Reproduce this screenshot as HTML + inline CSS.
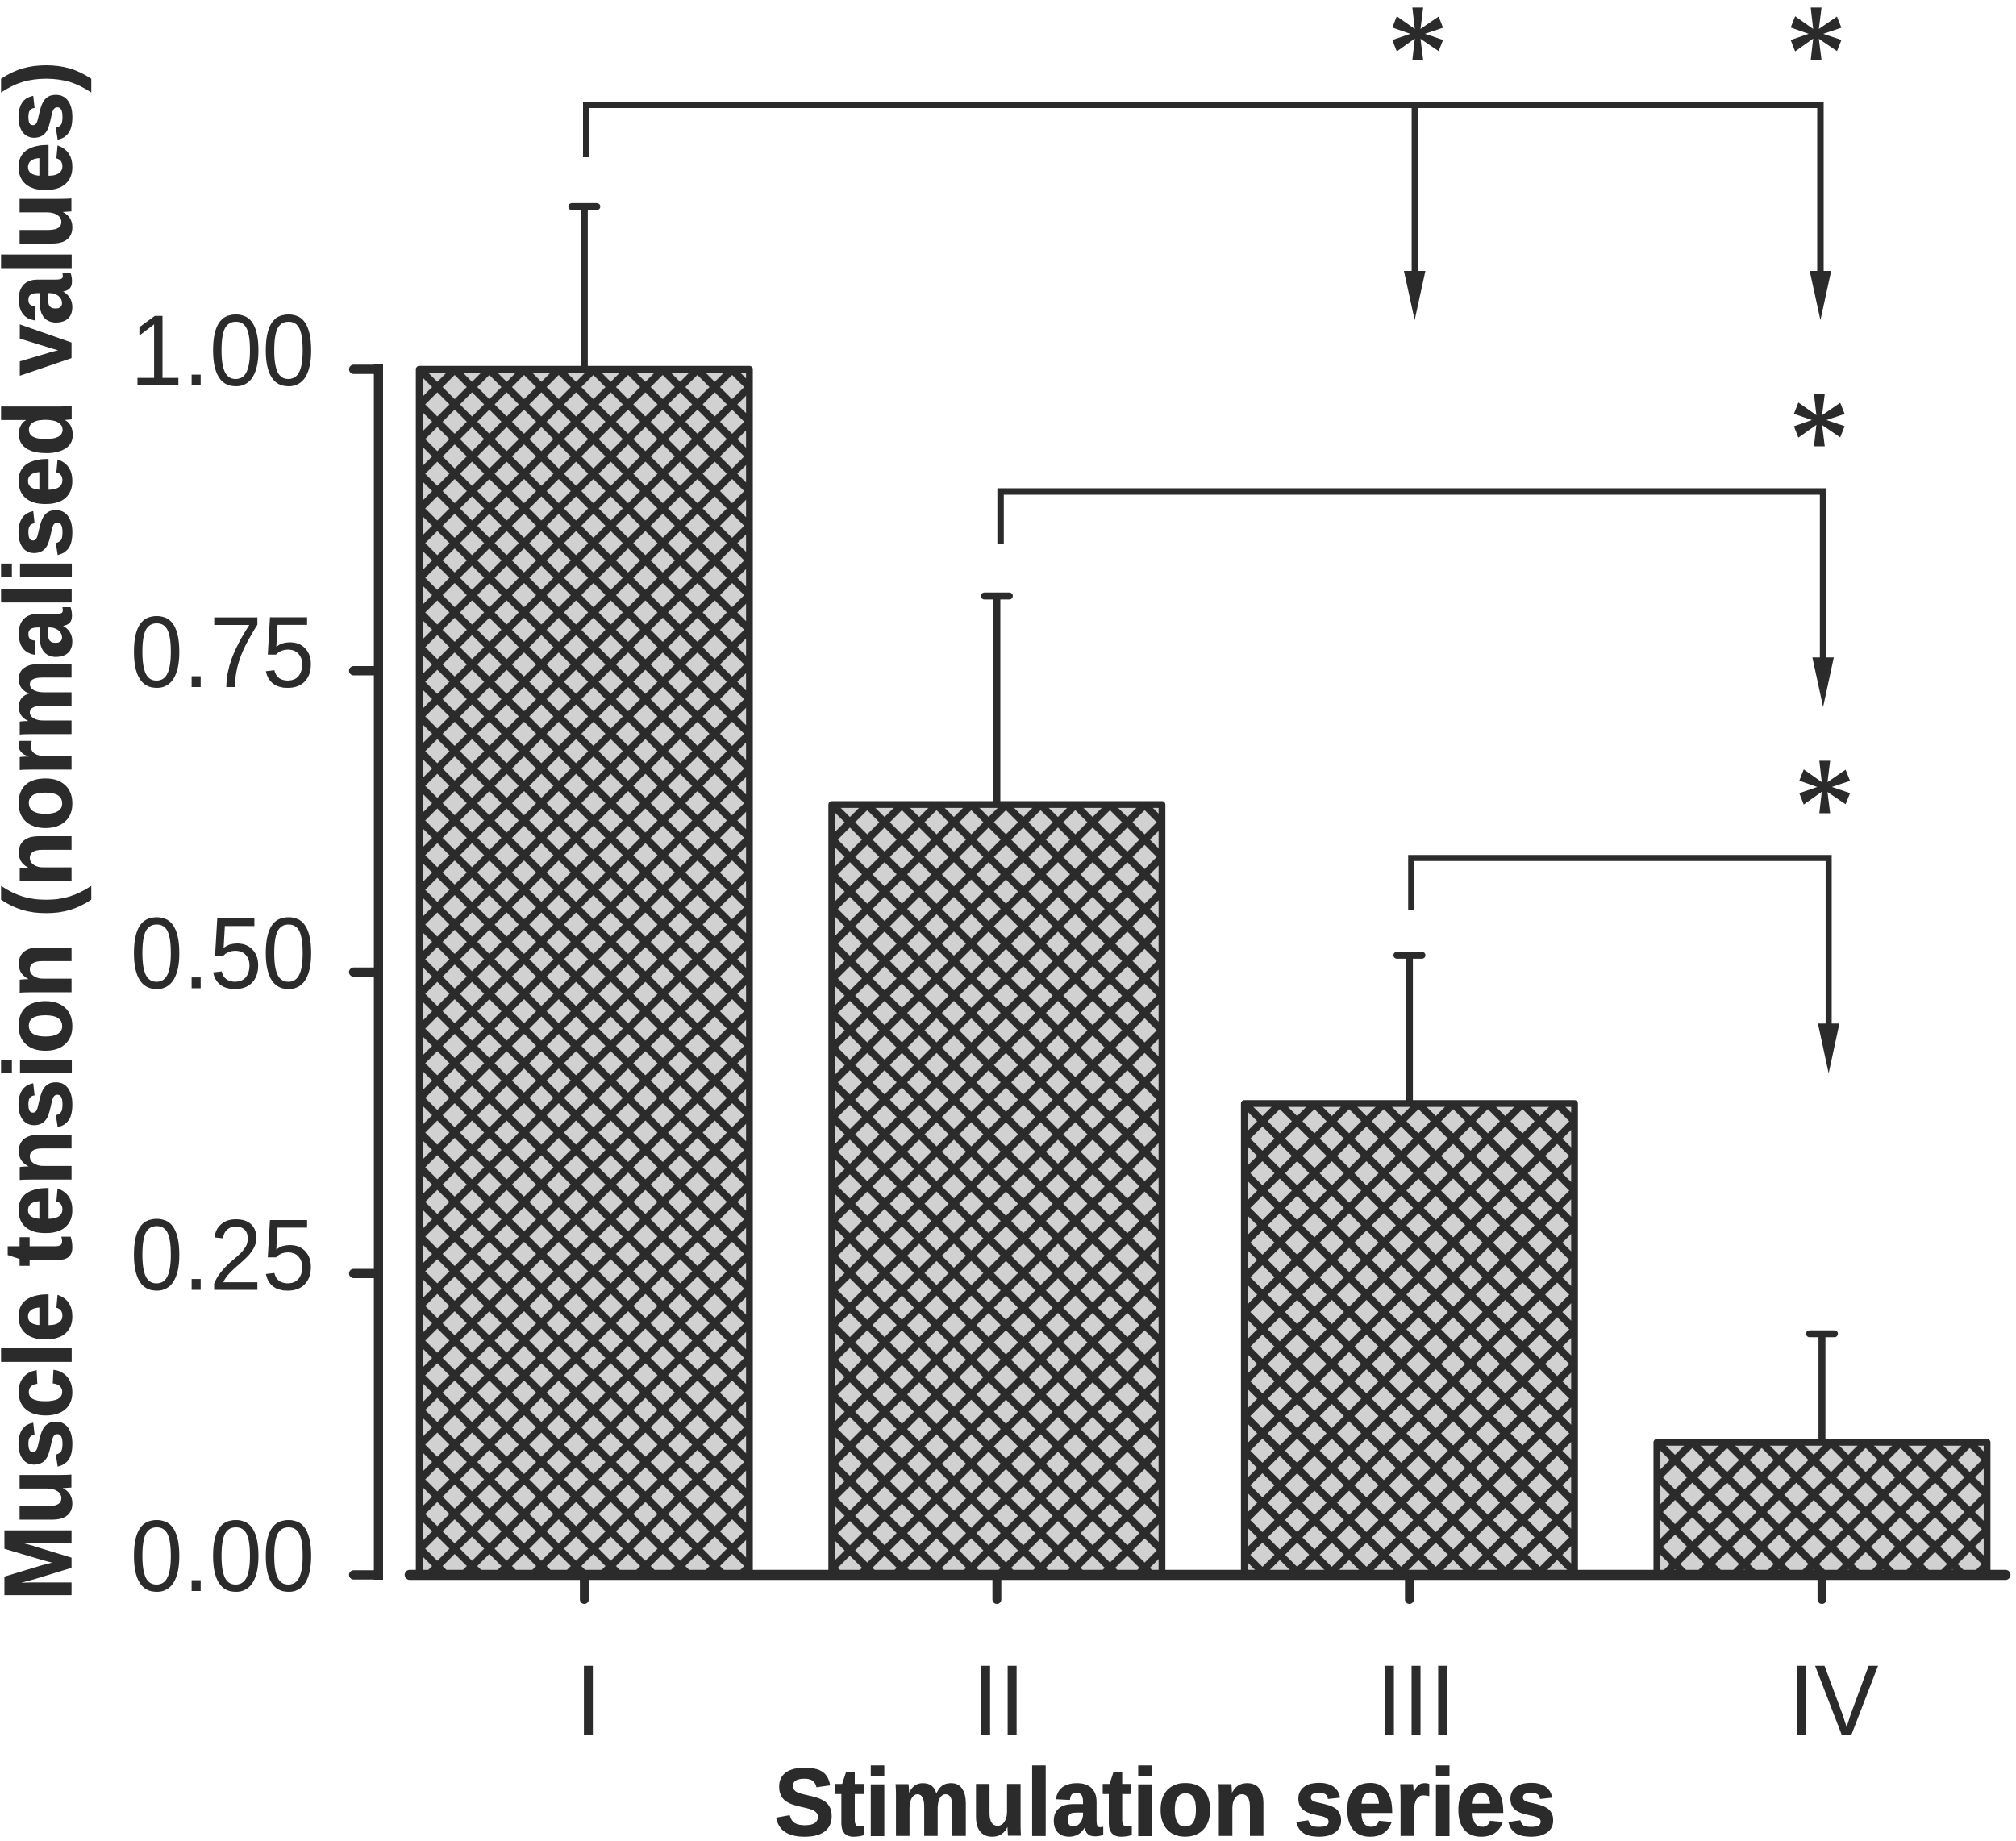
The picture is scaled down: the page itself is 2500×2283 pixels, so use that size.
<!DOCTYPE html>
<html lang="en">
<head>
<meta charset="utf-8">
<title>Muscle tension by stimulation series</title>
<style>
html,body{margin:0;padding:0;background:#fff;}
svg{display:block;}
text{fill:#2b2b2b;font-family:"Liberation Sans",sans-serif;}
.ink{stroke:#2b2b2b;fill:none;}
.head{fill:#2b2b2b;stroke:none;}
.title{stroke:#2b2b2b;stroke-width:1.4;}
.star{font-family:"Liberation Serif",serif;stroke:#2b2b2b;stroke-width:2;}
</style>
</head>
<body>
<svg id="chart" xmlns="http://www.w3.org/2000/svg" width="2500" height="2283" viewBox="0 0 2500 2283">
  <rect x="0" y="0" width="2500" height="2283" fill="#fff"/>
  <defs id="hatch-defs"></defs>
  <g id="bars"></g>
  <g id="axes"></g>

  <text class="title" transform="translate(88,1985) rotate(-90)" font-size="119" font-weight="700" textLength="1909" lengthAdjust="spacingAndGlyphs">Muscle tension (normalised values)</text>
  <text class="title" x="960" y="2276" font-size="119" font-weight="700" textLength="970" lengthAdjust="spacingAndGlyphs">Stimulation series</text>

  <g>
    <path class="ink" stroke-width="8" stroke-linejoin="miter" d="M727 195 V130 H2257.5 V340"/>
    <path class="ink" stroke-width="7.5" d="M1754.3 130 V340"/>
    <polygon class="head" points="1741,336 1767.6,336 1754.3,397"/>
    <polygon class="head" points="2244.2,336 2270.8,336 2257.5,397"/>
    <text class="star" x="1758" y="123" font-size="172" text-anchor="middle" textLength="75" lengthAdjust="spacingAndGlyphs">*</text>
    <text class="star" x="2252" y="123" font-size="172" text-anchor="middle" textLength="75" lengthAdjust="spacingAndGlyphs">*</text>
  </g>
  <g>
    <path class="ink" stroke-width="8" d="M1240.8 674.5 V609.5 H2260.8 V820"/>
    <polygon class="head" points="2247.5,815.3 2274.1,815.3 2260.8,876.7"/>
    <text class="star" x="2256" y="602" font-size="172" text-anchor="middle" textLength="75" lengthAdjust="spacingAndGlyphs">*</text>
  </g>
  <g>
    <path class="ink" stroke-width="7.5" d="M1750 1129 V1064 H2267.7 V1274"/>
    <polygon class="head" points="2254.4,1269.3 2281,1269.3 2267.7,1331"/>
    <text class="star" x="2262.7" y="1057" font-size="172" text-anchor="middle" textLength="75" lengthAdjust="spacingAndGlyphs">*</text>
  </g>
</svg>
<script>
const categories = ['I', 'II', 'III', 'IV'];
const meanValues = [1.00, 0.639, 0.391, 0.110];
const errorTops = [1.135, 0.812, 0.514, 0.200];
const yTickValues = [0, 0.25, 0.5, 0.75, 1];
const yTickLabels = ['0.00', '0.25', '0.50', '0.75', '1.00'];

const NS = 'http://www.w3.org/2000/svg';
const INK = '#2b2b2b';
const FILL = '#d1d1d1';
const xScale = function (i) { return 724.6 + 511.6 * i; };
const yScale = function (v) { return 1953 - 1495 * v; };
const BAR_WIDTH = 409.5;
const HATCH = 43;

function make(parent, tag, attrs) {
  const el = document.createElementNS(NS, tag);
  Object.keys(attrs).forEach(function (k) { el.setAttribute(k, attrs[k]); });
  parent.appendChild(el);
  return el;
}

const defs = document.getElementById('hatch-defs');
const barsGroup = document.getElementById('bars');
const axesGroup = document.getElementById('axes');

categories.forEach(function (cat, i) {
  const cx = xScale(i);
  const left = cx - BAR_WIDTH / 2;
  const top = yScale(meanValues[i]);
  const bottom = yScale(0);
  const capY = yScale(errorTops[i]);

  const pat = make(defs, 'pattern', {
    id: 'hatch-' + i,
    patternUnits: 'userSpaceOnUse',
    x: left - 4 + 26.5,
    y: top - 4 + 26,
    width: HATCH,
    height: HATCH
  });
  make(pat, 'rect', { x: 0, y: 0, width: HATCH, height: HATCH, fill: FILL });
  make(pat, 'path', {
    d: 'M-6 -6 L' + (HATCH + 6) + ' ' + (HATCH + 6) + ' M' + (HATCH + 6) + ' -6 L-6 ' + (HATCH + 6),
    stroke: INK,
    'stroke-width': 9.2,
    fill: 'none'
  });

  const stem = make(barsGroup, 'line', { x1: cx, x2: cx, y1: capY, y2: top, stroke: INK, 'stroke-width': 8.6 });
  
  

  const cap = make(barsGroup, 'line', { x1: cx - 15.5, x2: cx + 15.5, y1: capY, y2: capY, stroke: INK, 'stroke-width': 8.6, 'stroke-linecap': 'round' });
  
  

  const bar = make(barsGroup, 'rect', {
    x: left,
    y: top,
    width: BAR_WIDTH,
    height: bottom - top,
    fill: 'url(#hatch-' + i + ')',
    stroke: INK,
    'stroke-width': 8.4,
    'stroke-linejoin': 'round'
  });
  
  

  const tick = make(axesGroup, 'line', { x1: cx, x2: cx, y1: bottom, y2: 1983.5, stroke: INK, 'stroke-width': 11, 'stroke-linecap': 'round' });
  
  
});

const xLabelCenters = [729.6, 1238.7, 1756, 2273.5];
const xLabelLengths = [33, 66, 99, 112];
categories.forEach(function (cat, i) {
  const label = make(axesGroup, 'text', {
    x: xLabelCenters[i],
    y: 2152,
    'font-size': 125,
    'text-anchor': 'middle',
    textLength: xLabelLengths[i],
    lengthAdjust: 'spacingAndGlyphs'
  });
  label.textContent = cat;
  
  
});

const yAxis = make(axesGroup, 'line', { x1: 469.3, x2: 469.3, y1: yScale(1) - 6, y2: yScale(0) + 6, stroke: INK, 'stroke-width': 11.4 });



const xAxis = make(axesGroup, 'line', { x1: 508, x2: 2487, y1: yScale(0), y2: yScale(0), stroke: INK, 'stroke-width': 12.4, 'stroke-linecap': 'round' });



yTickValues.forEach(function (v, i) {
  const y = yScale(v);
  const tick = make(axesGroup, 'line', { x1: 438.5, x2: 469, y1: y, y2: y, stroke: INK, 'stroke-width': 11.4, 'stroke-linecap': 'round' });
  
  

  const label = make(axesGroup, 'text', {
    x: 390.5,
    y: y + 20,
    'font-size': 125,
    'text-anchor': 'end',
    textLength: 229,
    lengthAdjust: 'spacingAndGlyphs'
  });
  label.textContent = yTickLabels[i];
  
  
});
</script>
</body>
</html>
